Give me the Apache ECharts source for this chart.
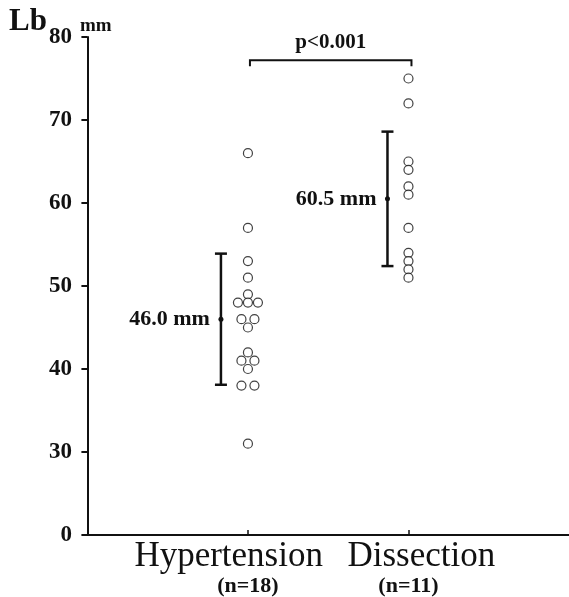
<!DOCTYPE html>
<html>
<head>
<meta charset="utf-8">
<script src="https://cdn.jsdelivr.net/npm/echarts@6/dist/echarts.min.js"></script>
<style>
  html, body { margin: 0; padding: 0; background: #fff; }
  #chart { width: 569px; height: 597px; }
</style>
</head>
<body>
<div id="chart"></div>
<script>
// groups on the x axis
const groups = ['Hypertension', 'Dissection'];
const groupN = ['(n=18)', '(n=11)'];
// Lb of each patient, mm
const hyperValues = [66, 57, 53, 51, 49, 48, 48, 48, 46, 46, 45, 42, 41, 41, 40, 38, 38, 31];
const dissectValues = [75, 72, 65, 64, 62, 61, 57, 54, 53, 52, 51];
// mean and SD of each group
const groupMeans = [46.0, 60.5];
const groupSDs = [7.9, 8.1];
const pText = 'p<0.001';
const bracketLevel = 77.2;
// the y axis is broken: the bottom tick (20) reads 0
const yTicks = [20, 30, 40, 50, 60, 70, 80];
const yTickLabels = ['0', '30', '40', '50', '60', '70', '80'];

const SERIF = '"Liberation Serif", "Times New Roman", serif';
const INK = '#111';

// spread equal values side by side (pixel offsets)
function swarm(values, x) {
  let count = {};
  values.forEach(v => { count[v] = (count[v] || 0) + 1; });
  let seen = {};
  return values.map(v => {
    let n = count[v];
    let i = seen[v] = (seen[v] || 0) + 1;
    let step = n === 2 ? 13 : 10;
    return { value: [x, v], symbolOffset: [((i - 1) - (n - 1) / 2) * step, 0] };
  });
}

// error bars sit a bit left of the dots
const barShift = [-27, -21];
// the big group names are not centred on the ticks in the original
const nameAt = [0.88, 2.08];

let chart = echarts.init(document.getElementById('chart'));

chart.setOption({
  backgroundColor: '#fff',
  animation: false,
  grid: { left: 85, right: 0, top: 37, bottom: 60 },
  xAxis: [{
    type: 'value',
    min: -0.015,
    max: 3,
    splitLine: { show: false },
    axisLine: { lineStyle: { color: INK, width: 2 } },
    axisTick: { customValues: [1, 2], inside: true, length: 5, lineStyle: { color: INK, width: 1.5 } },
    axisLabel: {
      customValues: nameAt,
      margin: 4,
      hideOverlap: false,
      fontFamily: SERIF,
      fontSize: 35,
      lineHeight: 35,
      color: INK,
      formatter: v => groups[nameAt.indexOf(v)]
    }
  }, {
    type: 'value',
    min: -0.015,
    max: 3,
    position: 'bottom',
    splitLine: { show: false },
    axisLine: { show: false },
    axisTick: { show: false },
    axisLabel: {
      customValues: [1, 2],
      margin: 40,
      fontFamily: SERIF,
      fontWeight: 'bold',
      fontSize: 22,
      color: INK,
      formatter: v => groupN[v - 1]
    }
  }],
  yAxis: {
    type: 'value',
    min: 20,
    max: 80,
    interval: 10,
    splitLine: { show: false },
    axisLine: { show: true, lineStyle: { color: INK, width: 2 } },
    axisTick: { show: true, length: 6, lineStyle: { color: INK, width: 2 } },
    axisLabel: {
      margin: 13,
      fontFamily: SERIF,
      fontWeight: 'bold',
      fontSize: 23,
      color: INK,
      formatter: v => yTickLabels[yTicks.indexOf(v)]
    }
  },
  graphic: [
    { type: 'text', left: 9, top: 6, style: { text: 'Lb', font: 'bold 31px ' + SERIF, fill: INK } },
    { type: 'text', left: 80, top: 17, style: { text: 'mm', font: 'bold 19px ' + SERIF, fill: INK } }
  ],
  series: [{
    type: 'scatter',
    data: swarm(hyperValues, 1),
    symbol: 'circle',
    symbolSize: 9,
    itemStyle: { color: '#fff', borderColor: INK, borderWidth: 1.2 }
  }, {
    type: 'scatter',
    data: swarm(dissectValues, 2),
    symbol: 'circle',
    symbolSize: 9,
    itemStyle: { color: '#fff', borderColor: INK, borderWidth: 1.2 }
  }, {
    type: 'custom',
    data: groupMeans.map((m, i) => [i + 1, m, groupSDs[i]]),
    encode: { x: 0, y: 1 },
    clip: false,
    renderItem(params, api) {
      let i = params.dataIndex;
      let gx = api.value(0), m = api.value(1), sd = api.value(2);
      let mid = api.coord([gx, m]);
      let x = mid[0] + barShift[i];
      let yHi = api.coord([gx, m + sd])[1];
      let yLo = api.coord([gx, m - sd])[1];
      let line = { stroke: INK, lineWidth: 2.5 };
      return {
        type: 'group',
        children: [
          { type: 'line', shape: { x1: x, y1: yHi, x2: x, y2: yLo }, style: line },
          { type: 'line', shape: { x1: x - 6, y1: yHi, x2: x + 6, y2: yHi }, style: line },
          { type: 'line', shape: { x1: x - 6, y1: yLo, x2: x + 6, y2: yLo }, style: line },
          { type: 'circle', shape: { cx: x, cy: mid[1], r: 2.5 }, style: { fill: INK } },
          {
            type: 'text',
            style: {
              text: m.toFixed(1) + ' mm',
              x: x - 11, y: mid[1],
              align: 'right', verticalAlign: 'middle',
              font: 'bold 22px ' + SERIF, fill: INK
            }
          }
        ]
      };
    }
  }, {
    type: 'custom',
    data: [[1, 2, bracketLevel]],
    encode: { x: [0, 1], y: 2 },
    clip: false,
    renderItem(params, api) {
      let a = api.coord([api.value(0), api.value(2)]);
      let b = api.coord([api.value(1), api.value(2)]);
      let x1 = a[0] + 2, x2 = b[0] + 3, y = a[1];
      return {
        type: 'group',
        children: [
          {
            type: 'polyline',
            shape: { points: [[x1, y + 6], [x1, y], [x2, y], [x2, y + 6]] },
            style: { stroke: INK, lineWidth: 2, fill: null }
          },
          {
            type: 'text',
            style: {
              text: pText,
              x: (x1 + x2) / 2, y: y - 7,
              align: 'center', verticalAlign: 'bottom',
              font: 'bold 21px ' + SERIF, fill: INK
            }
          }
        ]
      };
    }
  }]
});
</script>
</body>
</html>
